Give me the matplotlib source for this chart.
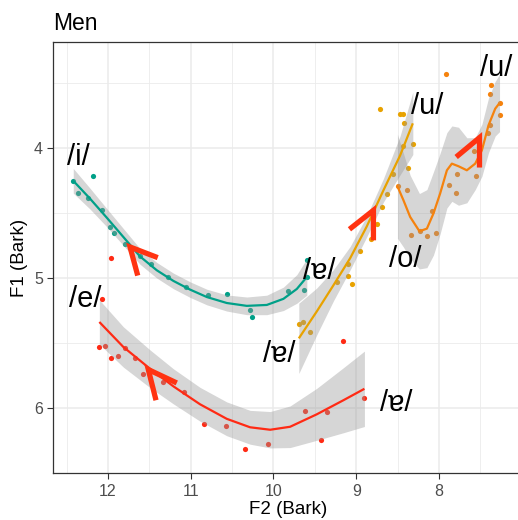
import matplotlib
matplotlib.use("Agg")
import matplotlib.pyplot as plt
import numpy as np

plt.rcParams['font.family'] = ['Liberation Sans', 'DejaVu Sans']

# ---------------- data (F2, F1 in Bark) ----------------
# /i/ trajectory (teal)
i_f2 = [12.42, 12.359, 12.245, 12.178, 12.069, 11.976, 11.927, 11.794, 11.613, 11.484,
        11.278, 11.057, 10.794, 10.565, 10.279, 10.259, 9.827, 9.63, 9.597, 9.597]
i_f1 = [4.25, 4.341, 4.385, 4.21, 4.477, 4.608, 4.648, 4.736, 4.831, 4.892,
        4.99, 5.067, 5.125, 5.123, 5.241, 5.298, 5.098, 5.087, 4.99, 4.856]
i_fit_f2 = [12.42, 12.218, 12.016, 11.815, 11.613, 11.411, 11.21, 11.008, 10.806, 10.565,
            10.323, 10.081, 9.88, 9.718, 9.597]
i_fit_f1 = [4.25, 4.387, 4.533, 4.682, 4.832, 4.938, 5.02, 5.087, 5.144, 5.19,
            5.212, 5.205, 5.158, 5.082, 4.99]
i_fit_se = [0.095, 0.08, 0.07, 0.065, 0.06, 0.06, 0.06, 0.06, 0.06, 0.062,
            0.068, 0.075, 0.09, 0.11, 0.14]

# /e/ trajectory (red)
e_f2 = [12.076, 12.112, 12.036, 11.96, 11.883, 11.791, 11.67, 11.577, 11.331, 11.077,
        10.843, 10.573, 10.347, 10.065, 9.614, 9.421, 9.348, 8.901, 9.162, 11.964]
e_f1 = [5.156, 5.525, 5.521, 5.61, 5.595, 5.538, 5.61, 5.736, 5.798, 5.877,
        6.121, 6.136, 6.31, 6.277, 6.023, 6.244, 6.028, 5.918, 5.479, 4.844]
e_fit_f2 = [12.105, 11.815, 11.492, 11.21, 10.888, 10.565, 10.283, 10.04, 9.799, 9.476,
            9.155, 8.901]
e_fit_f1 = [5.336, 5.528, 5.696, 5.831, 5.969, 6.081, 6.146, 6.165, 6.142, 6.046,
            5.938, 5.85]
e_fit_se = [0.17, 0.155, 0.145, 0.135, 0.13, 0.13, 0.13, 0.14, 0.16, 0.2, 0.25, 0.29]

# /u/ (front) trajectory (gold)
u_f2 = [9.694, 9.638, 9.554, 9.227, 9.102, 9.094, 9.046, 8.953, 8.823, 8.751,
        8.687, 8.623, 8.557, 8.373, 8.437, 8.316, 8.421, 8.473, 8.43, 8.711]
u_f1 = [5.354, 5.338, 5.41, 5.025, 4.887, 4.985, 5.044, 4.788, 4.695, 4.579,
        4.452, 4.352, 4.2, 4.152, 3.985, 3.964, 3.808, 3.738, 3.738, 3.695]
u_fit_f2 = [9.694, 9.476, 9.276, 9.074, 8.872, 8.671, 8.469, 8.316]
u_fit_f1 = [5.462, 5.254, 5.054, 4.846, 4.6, 4.323, 4.054, 3.808]
u_fit_se = [0.27, 0.18, 0.12, 0.09, 0.08, 0.09, 0.15, 0.24]

# /o/ trajectory (orange)
o_f2 = [8.493, 8.388, 8.333, 8.231, 8.146, 8.034, 8.082, 7.873, 7.796, 7.784,
        7.55, 7.574, 7.409, 7.389, 7.268, 7.264, 7.381, 7.372, 7.913]
o_f1 = [4.292, 4.318, 4.669, 4.636, 4.675, 4.654, 4.482, 4.279, 4.344, 4.198,
        4.213, 4.023, 3.885, 3.823, 3.741, 3.648, 3.579, 3.51, 3.431]
o_fit_f2 = [8.502, 8.429, 8.348, 8.236, 8.146, 8.067, 7.986, 7.904, 7.844, 7.764,
            7.663, 7.562, 7.481, 7.401, 7.32, 7.268]
o_fit_f1 = [4.292, 4.4, 4.528, 4.638, 4.618, 4.502, 4.348, 4.169, 4.118, 4.138,
            4.169, 4.118, 4.015, 3.823, 3.695, 3.652]
o_fit_se = [0.4, 0.36, 0.32, 0.29, 0.3, 0.32, 0.31, 0.29, 0.29, 0.3,
            0.25, 0.2, 0.2, 0.21, 0.21, 0.22]

# direction arrows: tip and two barb ends
arrow_tip_f2 = [11.734, 11.513, 8.792, 7.510]
arrow_tip_f1 = [4.759, 5.702, 4.477, 3.918]
arrow_b1_f2 = [11.399, 11.169, 9.082, 7.792]
arrow_b1_f1 = [4.841, 5.805, 4.623, 4.067]
arrow_b2_f2 = [11.641, 11.42, 8.792, 7.510]
arrow_b2_f1 = [4.979, 5.938, 4.708, 4.148]

# vowel labels
label_text = ["/i/", "/e/", "/ɐ/", "/ɐ/", "/ɐ/", "/u/", "/u/", "/o/"]
label_f2 = [12.363, 12.278, 9.443, 9.932, 8.52, 8.137, 7.308, 8.409]
label_f1 = [4.046, 5.142, 4.923, 5.562, 5.938, 3.656, 3.362, 4.831]

x_ticks = [12, 11, 10, 9, 8]
y_ticks = [4, 5, 6]

# ---------------- styling ----------------
col_i = '#00A088'
col_e = '#FF2A14'
col_u = '#E8A200'
col_o = '#F5820D'
col_arrow = '#FF3311'

W, H = 518, 520
fig = plt.figure(figsize=(W / 100, H / 100), dpi=100)
ax_left, ax_right, ax_top, ax_bottom = 53.3, 522.0, 42.0, 473.3
ax = fig.add_axes([ax_left / W, 1 - ax_bottom / H, (ax_right - ax_left) / W,
                   (ax_bottom - ax_top) / H])

series = [
    (i_f2, i_f1, i_fit_f2, i_fit_f1, i_fit_se, col_i),
    (e_f2, e_f1, e_fit_f2, e_fit_f1, e_fit_se, col_e),
    (u_f2, u_f1, u_fit_f2, u_fit_f1, u_fit_se, col_u),
    (o_f2, o_f1, o_fit_f2, o_fit_f1, o_fit_se, col_o),
]
for px, py, fx, fy, se, c in series:
    ax.scatter(px, py, s=14, color=c, linewidths=0, zorder=2)
for px, py, fx, fy, se, c in series:
    fx = np.asarray(fx); fy = np.asarray(fy); se = np.asarray(se)
    ax.fill_between(fx, fy - se, fy + se, color='#999999', alpha=0.4, lw=0, zorder=3)
for px, py, fx, fy, se, c in series:
    ax.plot(fx, fy, color=c, lw=1.6, zorder=4, solid_capstyle='butt',
            solid_joinstyle='round')

for k in range(len(arrow_tip_f2)):
    ax.plot([arrow_b1_f2[k], arrow_tip_f2[k], arrow_b2_f2[k]],
            [arrow_b1_f1[k], arrow_tip_f1[k], arrow_b2_f1[k]],
            color=col_arrow, lw=3.8, solid_joinstyle='miter', solid_capstyle='butt',
            zorder=5)

for t, x, y in zip(label_text, label_f2, label_f1):
    ax.text(x, y + 0.02, t, fontsize=21, ha='center', va='center', color='black',
            zorder=6)

# axes
ax.set_xlim(12 + (108 - ax_left) / 82.7, 8 - (ax_right - 439) / 82.7)
ax.set_ylim(6 + (ax_bottom - 408.3) / 130, 4 - (148.3 - ax_top) / 130)
ax.set_xticks(x_ticks)
ax.set_xticklabels([str(v) for v in x_ticks])
ax.set_yticks(y_ticks)
ax.set_yticklabels([str(v) for v in y_ticks])
ax.set_xticks([12.5, 11.5, 10.5, 9.5, 8.5, 7.5], minor=True)
ax.set_yticks([3.5, 4.5, 5.5, 6.5], minor=True)
ax.grid(which='major', color='#EBEBEB', lw=1.1, zorder=0)
ax.grid(which='minor', color='#EBEBEB', lw=0.6, zorder=0)
ax.set_axisbelow(True)
ax.tick_params(which='minor', length=0)
ax.tick_params(which='major', length=4.5, width=0.8, color='#333333',
               labelsize=11.5, labelcolor='#4D4D4D', pad=3)
for s in ax.spines.values():
    s.set_color('#333333')
    s.set_linewidth(0.9)
ax.set_xlabel('F2 (Bark)', fontsize=13.5, labelpad=2)
ax.set_ylabel('F1 (Bark)', fontsize=13.5, labelpad=4)

fig.text(ax_left / W, 1 - 29.5 / H, 'Men', fontsize=16.5, ha='left', va='baseline')

fig.savefig('out.png', dpi=100)
